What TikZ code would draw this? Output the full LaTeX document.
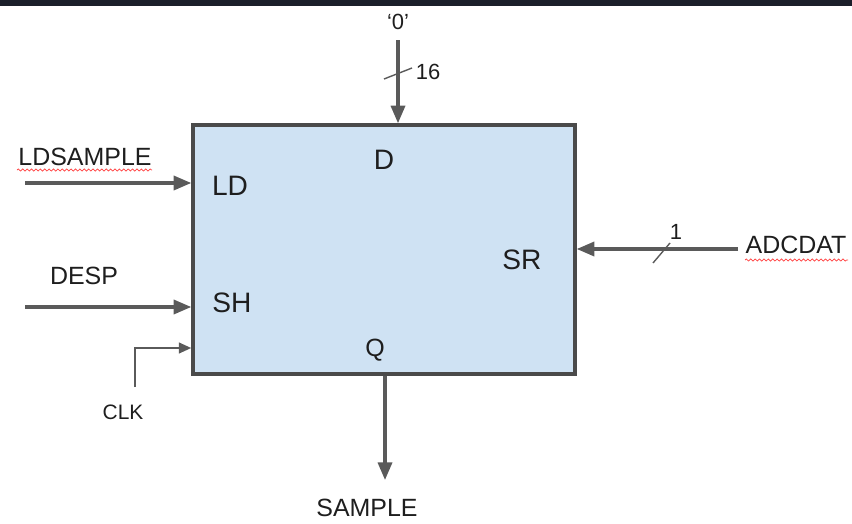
\documentclass[tikz,border=0pt]{standalone}
\usepackage{fontspec}
\setmainfont{Liberation Sans}
\usetikzlibrary{arrows.meta,decorations.pathmorphing}

\definecolor{wirec}{HTML}{5A5A5A}
\definecolor{boxfill}{HTML}{CFE2F3}
\definecolor{boxline}{HTML}{4A4A4A}
\definecolor{topbar}{HTML}{1B1F2A}
\definecolor{txtc}{HTML}{1E1E1E}

\begin{document}
\begin{tikzpicture}[x=0.02cm, y=-0.02cm, >={Triangle[length=10pt,width=8pt]},
    wire/.style={draw=wirec, line width=1.8pt},
    clkwire/.style={draw=wirec, line width=1.3pt},
    bus/.style={draw=wirec, line width=0.8pt},
    sig/.style={text=txtc, font=\fontsize{14.2}{16}\selectfont, inner sep=0pt},
    port/.style={text=txtc, font=\fontsize{16}{18}\selectfont, inner sep=0pt},
    small/.style={text=txtc, font=\fontsize{12.5}{14}\selectfont, inner sep=0pt},
    spell/.style={draw=red!75, line width=0.4pt, decorate,
        decoration={snake, amplitude=0.6pt, segment length=2.5pt}}]
                \useasboundingbox (0,0) rectangle (852,524);
                \fill[topbar] (0,0) rectangle (852,6);

                % the register
                \node[draw=boxline, fill=boxfill, line width=2pt, inner sep=0pt,
                      minimum width=7.64cm, minimum height=4.98cm] (reg) at (384,249.5) {};

                \node[port] (d) at (384,160) {D};
                \node[port] (ld) at (230,186) {LD};
                \node[port] (sh) at (232,303) {SH};
                \node[port] (sr) at (522,260) {SR};
                \node[sig] (q) at (375,350) {Q};

                % parallel input
                \node[small] (zero) at (398,22) {‘0’};
                \coordinate (zin) at (398,40);
                \draw[wire,->] (zin) -- (reg.north -| zin);
                \draw[bus] (384,79) -- (412,68);
                \node[small] (w16) at (428,72) {16};

                % load
                \node[sig] (ldsample) at (85,157) {LDSAMPLE};
                \draw[spell] (17,170) -- (152,170);
                \coordinate (ldin) at (25,183);
                \draw[wire,->] (ldin) -- (reg.west |- ldin);

                % shift
                \node[sig] (desp) at (84,276) {DESP};
                \coordinate (despin) at (25,307);
                \draw[wire,->] (despin) -- (reg.west |- despin);

                % clock
                \node[font=\fontsize{11.9}{13}\selectfont, text=txtc, inner sep=0pt] (clk) at (123,412) {CLK};
                \coordinate (clkin) at (135,387);
                \coordinate (clkbend) at (135,348);
                \draw[clkwire,-{Triangle[length=7pt,width=6pt]}] (clkin) -- (clkbend) -- (reg.west |- clkbend);

                % serial input
                \node[sig] (adcdat) at (796,245) {ADCDAT};
                \draw[spell] (745,260) -- (848,260);
                \coordinate (adcin) at (738,249);
                \draw[wire,->] (adcin) -- (reg.east |- adcin);
                \draw[bus] (653,263) -- (670,243);
                \node[small] (w1) at (676,232) {1};

                % output
                \coordinate (qout) at (385,480);
                \draw[wire,->] (reg.south -| qout) -- (qout);
                \node[sig] (sample) at (367,508) {SAMPLE};
\end{tikzpicture}
\end{document}
